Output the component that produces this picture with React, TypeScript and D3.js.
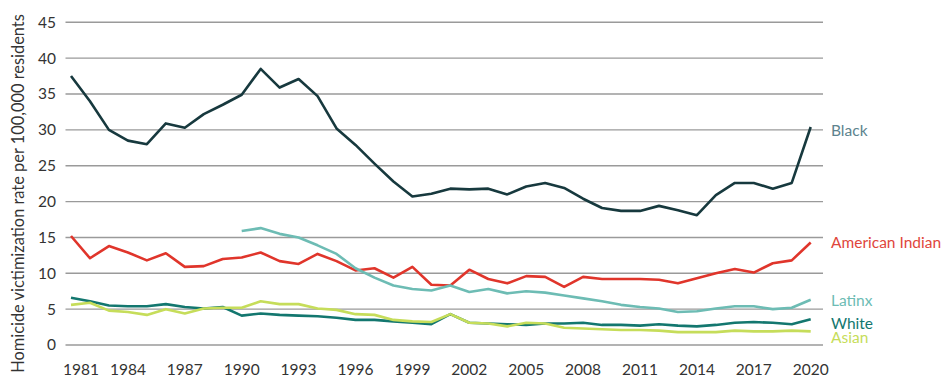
import React from "react";
import * as d3 from "d3";

const years: number[] = d3.range(1981, 2021);

const black: number[] = [37.5, 34.0, 30.0, 28.5, 28.0, 30.9, 30.3, 32.2, 33.5, 34.9, 38.5, 35.9, 37.1, 34.7, 30.2, 27.9, 25.3, 22.8, 20.7, 21.1, 21.8, 21.7, 21.8, 21.0, 22.1, 22.6, 21.9, 20.4, 19.1, 18.7, 18.7, 19.4, 18.8, 18.1, 20.9, 22.6, 22.6, 21.8, 22.6, 30.4];
const americanIndian: number[] = [15.2, 12.1, 13.8, 12.9, 11.8, 12.8, 10.9, 11.0, 12.0, 12.2, 12.9, 11.7, 11.3, 12.7, 11.7, 10.4, 10.7, 9.4, 10.9, 8.4, 8.3, 10.5, 9.2, 8.6, 9.6, 9.5, 8.1, 9.5, 9.2, 9.2, 9.2, 9.1, 8.6, 9.3, 10.0, 10.6, 10.1, 11.4, 11.8, 14.3];
const latinx: (number | null)[] = [null, null, null, null, null, null, null, null, null, 15.9, 16.3, 15.5, 15.0, 13.9, 12.7, 10.7, 9.4, 8.3, 7.8, 7.6, 8.3, 7.4, 7.8, 7.2, 7.5, 7.3, 6.9, 6.5, 6.1, 5.6, 5.3, 5.1, 4.6, 4.7, 5.1, 5.4, 5.4, 5.0, 5.2, 6.3];
const white: number[] = [6.6, 6.1, 5.5, 5.4, 5.4, 5.7, 5.3, 5.1, 5.3, 4.1, 4.4, 4.2, 4.1, 4.0, 3.8, 3.5, 3.5, 3.3, 3.1, 2.9, 4.3, 3.1, 3.0, 2.9, 2.8, 3.0, 3.0, 3.1, 2.8, 2.8, 2.7, 2.9, 2.7, 2.6, 2.8, 3.1, 3.2, 3.1, 2.9, 3.6];
const asian: number[] = [5.6, 5.9, 4.8, 4.6, 4.2, 5.0, 4.4, 5.1, 5.2, 5.2, 6.1, 5.7, 5.7, 5.1, 4.9, 4.3, 4.2, 3.5, 3.3, 3.2, 4.3, 3.1, 3.0, 2.6, 3.1, 3.0, 2.4, 2.3, 2.2, 2.1, 2.1, 2.0, 1.8, 1.8, 1.8, 2.0, 1.9, 1.9, 2.0, 1.9];

const seriesNames = ["Black", "American Indian", "Latinx", "White", "Asian"];
const seriesValues = [black, americanIndian, latinx, white, asian];
const lineColors = ["#17393e", "#e0352b", "#6dbcb4", "#13776f", "#c6dd5a"];
const labelColors = ["#5d838e", "#e0463c", "#6dbcb4", "#13776f", "#c6dd5a"];
const labelValues = [29.9, 14.3, 6.2, 3.0, 1.1];

const xTickYears = [1981, 1984, 1987, 1990, 1993, 1996, 1999, 2002, 2005, 2008, 2011, 2014, 2017, 2020];
const yTicks = [0, 5, 10, 15, 20, 25, 30, 35, 40, 45];
const yTitle = "Homicide victimization rate per 100,000 residents";

const FONT = "Lato, 'Noto Sans', sans-serif";

export default function App() {
  const W = 950, H = 383;
  const x = d3.scaleLinear().domain([1981, 2020]).range([71, 810.7]);
  const y = d3.scaleLinear().domain([0, 45]).range([345, 22.3]);
  const line = d3
    .line<number | null>()
    .defined((d) => d != null)
    .x((_, i) => x(years[i]))
    .y((d) => y(d as number));

  return (
    <svg width={W} height={H} style={{ position: "absolute", left: 0, top: 0 }} fontFamily={FONT}>
      <rect width={W} height={H} fill="#fff" />
      {yTicks.map((t) => (
        <g key={t}>
          <line x1={65.5} x2={823} y1={y(t)} y2={y(t)} stroke="#9a9a9a" strokeWidth={1.4} />
          <text x={56} y={y(t)} dy="0.35em" textAnchor="end" fontSize={15.5} fill="#333">
            {t}
          </text>
        </g>
      ))}
      {xTickYears.map((yr, i) => (
        <text
          key={yr}
          x={i === 0 ? 63 : x(yr)}
          y={375}
          textAnchor={i === 0 ? "start" : "middle"}
          fontSize={15.5}
          fill="#333"
        >
          {yr}
        </text>
      ))}
      <text
        transform={`translate(18,193.5) rotate(-90)`}
        textAnchor="middle"
        dy="0.35em"
        fontSize={16.4}
        fill="#333"
      >
        {yTitle}
      </text>
      {seriesValues.map((vals, i) => (
        <path
          key={seriesNames[i]}
          d={line(vals as (number | null)[]) || ""}
          fill="none"
          stroke={lineColors[i]}
          strokeWidth={2.6}
          strokeLinejoin="round"
        />
      ))}
      {seriesNames.map((n, i) => (
        <text key={n} x={831} y={y(labelValues[i])} dy="0.35em" fontSize={15.5} fill={labelColors[i]}>
          {n}
        </text>
      ))}
    </svg>
  );
}
